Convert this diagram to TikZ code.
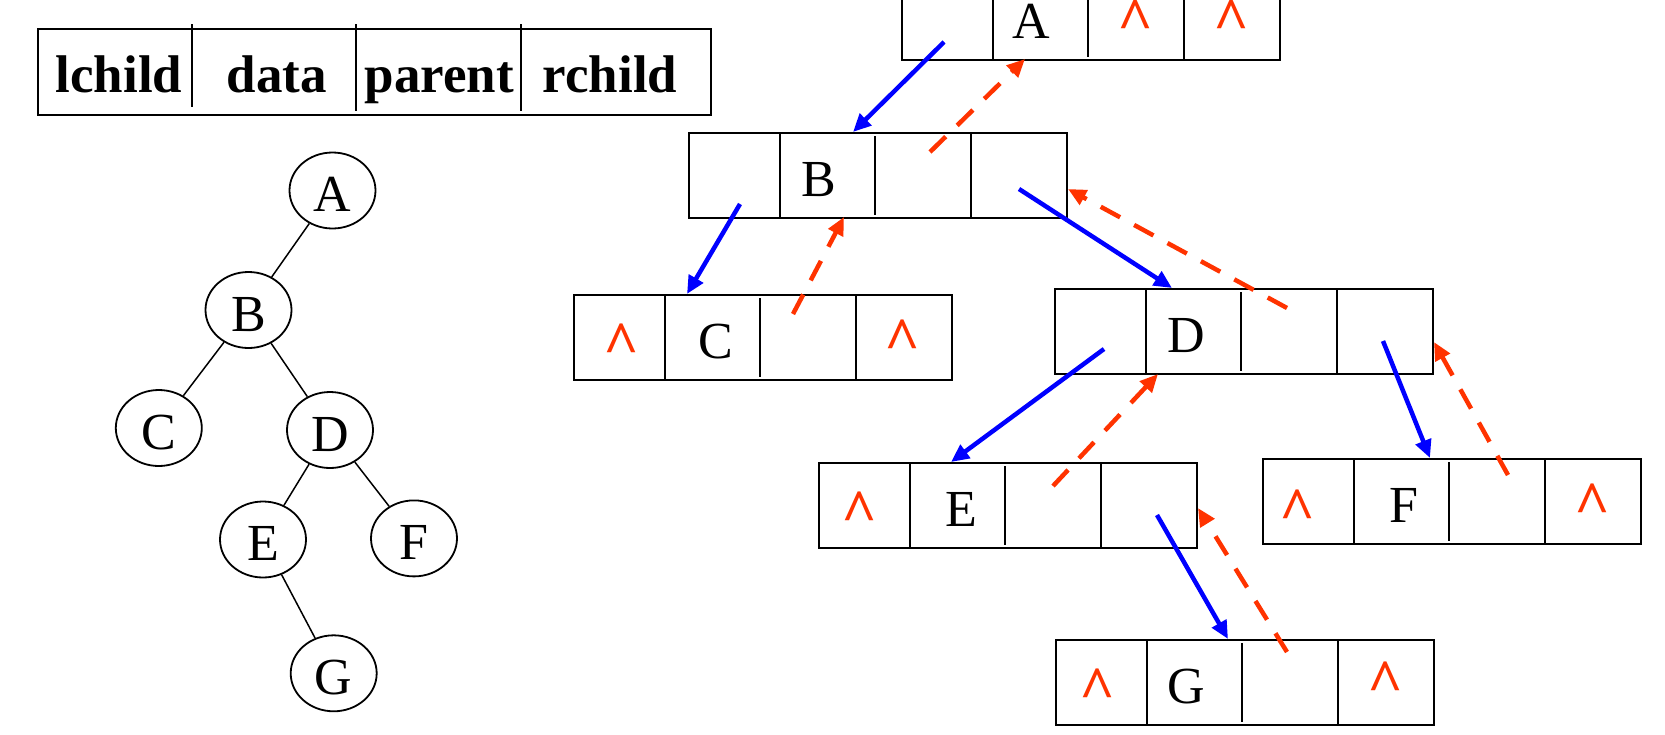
\documentclass[tikz,border=0pt]{standalone}
\usepackage{fontspec}
\setmainfont{Liberation Serif}
\usetikzlibrary{arrows.meta,shapes.geometric,calc}
\definecolor{ptrred}{RGB}{255,51,0}
\definecolor{ptrblue}{RGB}{0,0,255}
\newcommand\recnode[5]{%
  \node[rec] (#1) at (#2,#3) {};
  \draw[div] ($(#1.north west)+(92,0)$) -- ($(#1.south west)+(92,0)$);
  \draw[div] ($(#1.north west)+(187,4)$) -- ($(#1.south west)+(187,-4)$);
  \draw[div] ($(#1.north west)+(282.5,0)$) -- ($(#1.south west)+(282.5,0)$);
  \node[lbl] (#1-d) at ($(#1.west)+(139.5+#5,21)$) {#4};
}
\newcommand\caretat[4]{%
  \node[caret] (#2) at ($(#1.west)+(#3,#4)$) {\textasciicircum};
}
\begin{document}
\begin{tikzpicture}[x=1pt,y=-1pt,
  rec/.style={draw, line width=2pt, minimum width=378pt, minimum height=85pt, inner sep=0pt, anchor=north west},
  div/.style={line width=2pt},
  lbl/.style={font=\fontsize{52}{60}\selectfont, inner sep=0pt, anchor=base},
  hdr/.style={font=\bfseries\fontsize{53}{60}\selectfont, inner sep=0pt, anchor=base},
  caret/.style={text=ptrred, font=\bfseries\fontsize{62}{70}\selectfont, inner sep=0pt, anchor=base},
  tnode/.style={draw, ellipse, line width=1.8pt, minimum width=86pt, minimum height=76pt, inner sep=0pt,
    font=\fontsize{52}{60}\selectfont, text height=42pt, text depth=0pt},
  tedge/.style={line width=1.5pt},
  cptr/.style={draw=ptrblue, line width=4.5pt, -{Triangle[length=18pt,width=16pt]}},
  pptr/.style={draw=ptrred, line width=4.5pt, dash pattern=on 22pt off 16pt, -{Triangle[length=18pt,width=16pt]}},
]
\useasboundingbox (0,0) rectangle (1665,734);

% header table
\node[draw, line width=2pt, minimum width=673pt, minimum height=86pt, inner sep=0pt, anchor=north west] (hdr) at (37,28) {};
\draw[div] (191.5,24) -- (191.5,107);
\draw[div] (356,24) -- (356,111);
\draw[div] (520.5,24) -- (520.5,111);
\node[hdr] (h1) at (119,92) {lchild};
\node[hdr] (h2) at (277,92) {data};
\node[hdr] (h3) at (439.5,92) {parent};
\node[hdr] (h4) at (610,92) {rchild};

% tree
\node[tnode] (tA) at (332.5,190.5) {A};
\node[tnode] (tB) at (248.5,310) {B};
\node[tnode] (tC) at (158.8,428) {C};
\node[tnode] (tD) at (330,430) {D};
\node[tnode] (tE) at (263,539.5) {E};
\node[tnode] (tF) at (414,538.4) {F};
\node[tnode] (tG) at (333.7,673.3) {G};
\draw[tedge] (tA) -- (tB);
\draw[tedge] (tB) -- (tC);
\draw[tedge] (tB) -- (tD);
\draw[tedge] (tD) -- (tE);
\draw[tedge] (tD) -- (tF);
\draw[tedge] (tE) -- (tG);

% linked nodes
\recnode{A}{901}{-26}{A}{-9}
\recnode{B}{688}{132}{B}{-9}
\recnode{C}{573}{294}{C}{3.5}
\recnode{D}{1054}{288}{D}{-7}
\recnode{E}{818}{462}{E}{3.5}
\recnode{F}{1262}{458}{F}{2}
\recnode{G}{1055}{639}{G}{-8}

\caretat{A}{A-p}{234.75}{22.7}
\caretat{A}{A-r}{330}{22.7}
\caretat{C}{C-l}{49}{26.7}
\caretat{C}{C-r}{330}{22.7}
\caretat{E}{E-l}{42}{26.7}
\caretat{F}{F-l}{35}{29}
\caretat{F}{F-r}{330}{22.7}
\caretat{G}{G-l}{42}{26.7}
\caretat{G}{G-r}{330}{20}

% pointer ends
\coordinate (A-lo) at ($(A.north west)+(43,68)$);
\coordinate (B-in) at ($(B.north west)+(165,0)$);
\coordinate (B-lo) at ($(B.north west)+(52,72)$);
\coordinate (C-in) at ($(C.north west)+(114,0)$);
\coordinate (B-ro) at ($(B.north west)+(331,57)$);
\coordinate (D-in) at ($(D.north west)+(118,0)$);
\coordinate (D-lo) at ($(D.north west)+(50,61)$);
\coordinate (E-in) at ($(E.north west)+(133,0)$);
\coordinate (D-ro) at ($(D.north west)+(329,53)$);
\coordinate (F-in) at ($(F.north west)+(168,0)$);
\coordinate (E-ro) at ($(E.north west)+(339,53)$);
\coordinate (G-in) at ($(G.north west)+(173,0)$);

\coordinate (B-po) at ($(B.north west)+(242,20)$);
\coordinate (A-pi) at ($(A.north west)+(124,85)$);
\coordinate (C-po) at ($(C.north west)+(220,20)$);
\coordinate (B-pi) at ($(B.north west)+(156,85)$);
\coordinate (D-po) at ($(D.north west)+(233,20)$);
\coordinate (B-pr) at ($(B.north west)+(380,57)$);
\coordinate (E-po) at ($(E.north west)+(235,24)$);
\coordinate (D-pi) at ($(D.north west)+(104,86)$);
\coordinate (F-po) at ($(F.north west)+(246,17)$);
\coordinate (D-pr) at ($(D.north west)+(380,54)$);
\coordinate (G-po) at ($(G.north west)+(232,13)$);
\coordinate (E-pr) at ($(E.north west)+(380,46)$);

\draw[cptr] (A-lo) -- (B-in);
\draw[cptr] (B-lo) -- (C-in);
\draw[cptr] (B-ro) -- (D-in);
\draw[cptr] (D-lo) -- (E-in);
\draw[cptr] (D-ro) -- (F-in);
\draw[cptr] (E-ro) -- (G-in);

\draw[pptr] (B-po) -- (A-pi);
\draw[pptr] (C-po) -- (B-pi);
\draw[pptr] (D-po) -- (B-pr);
\draw[pptr] (E-po) -- (D-pi);
\draw[pptr] (F-po) -- (D-pr);
\draw[pptr] (G-po) -- (E-pr);
\end{tikzpicture}
\end{document}
